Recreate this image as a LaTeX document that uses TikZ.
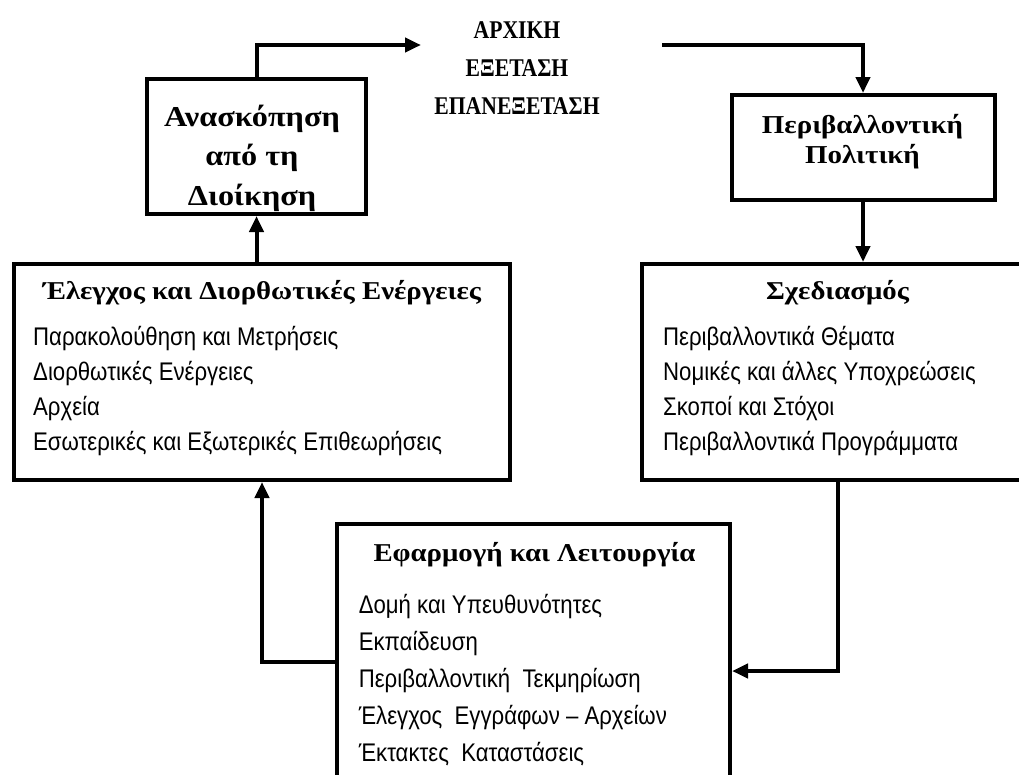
\documentclass[tikz,border=0pt]{standalone}
\usepackage{fontspec}
\setmainfont{Liberation Sans}[FakeStretch=0.87]
\newfontfamily\headfont{Liberation Serif}[FakeStretch=1.12]
\newfontfamily\capsfont{Liberation Serif}[FakeStretch=0.85]
\usepackage{tikz}
\usetikzlibrary{arrows.meta, positioning}

\tikzset{
  frame/.style={draw, line width=4pt, inner sep=0pt},
  flow/.style={line width=4pt, -{Triangle[length=16pt,width=14pt]}},
  head/.style={font=\headfont\bfseries\fontsize{#1}{38}\selectfont, align=center, inner sep=0pt},
  items/.style={font=\fontsize{25.5}{#1}\selectfont, align=left, anchor=west, inner sep=0pt},
}

\begin{document}
\begin{tikzpicture}[x=1pt, y=-1pt]
    \useasboundingbox (0,0) rectangle (1019,774);
    \clip (0,0) rectangle (1019,774);
    % boxes
    \node[frame, minimum width=219pt, minimum height=135pt](rev) at (256.5,146.5) {};
    \node[frame, minimum width=263pt, minimum height=105pt](pol) at (863,147.5) {};
    \node[frame, minimum width=496pt, minimum height=216pt](check) at (262,372) {};
    \node[frame, minimum width=391pt, minimum height=216pt](plan) at (837.5,372) {};
    \node[frame, minimum width=393pt, minimum height=276pt](impl) at (533.5,662) {};
    % texts
    \node[head=25, font=\capsfont\bfseries\fontsize{25.5}{38}\selectfont](init) at (517,68) {ΑΡΧΙΚΗ\\ΕΞΕΤΑΣΗ\\ΕΠΑΝΕΞΕΤΑΣΗ};
    \node[head=29, font=\headfont\bfseries\fontsize{28.8}{39.5}\selectfont](revtext) at (252,158) {Ανασκόπηση\\από τη\\Διοίκηση};
    \node[head=26, font=\headfont\bfseries\fontsize{25.8}{30}\selectfont](poltext) at (862.5,142) {Περιβαλλοντική\\Πολιτική};
    \node[head=25.7](checkhead) at (262,293) {Έλεγχος και Διορθωτικές Ενέργειες};
    \node[head=25.7](planhead) at (837.5,293) {Σχεδιασμός};
    \node[head=25.7](implhead) at (534.5,555) {Εφαρμογή και Λειτουργία};
    \node[items=35.3](checkitems) at (33,391) {Παρακολούθηση και Μετρήσεις\\Διορθωτικές Ενέργειες\\Αρχεία\\Εσωτερικές και Εξωτερικές Επιθεωρήσεις};
    \node[items=35.3](planitems) at (663,391) {Περιβαλλοντικά Θέματα\\Νομικές και άλλες Υποχρεώσεις\\Σκοποί και Στόχοι\\Περιβαλλοντικά Προγράμματα};
    \node[items=37](implitems) at (358.6,680) {Δομή και Υπευθυνότητες\\Εκπαίδευση\\Περιβαλλοντική\ \ Τεκμηρίωση\\Έλεγχος\ \ Εγγράφων – Αρχείων\\Έκτακτες\ \ Καταστάσεις};
    % loop ends beside the top text
    \coordinate (initin) at (421,45);
    \coordinate (initout) at (662,45);
    % connectors
    \draw[flow] (rev.north) |- (initin);
    \draw[flow] (initout) -| (pol.north);
    \draw[flow] (pol.south) -- (pol.south |- plan.north);
    \draw[flow] (plan.south) |- ([yshift=-9pt]impl.east);
    \draw[flow] (impl.west) -| (check.south);
    \draw[flow] (rev.south |- check.north) -- (rev.south);
\end{tikzpicture}
\end{document}
